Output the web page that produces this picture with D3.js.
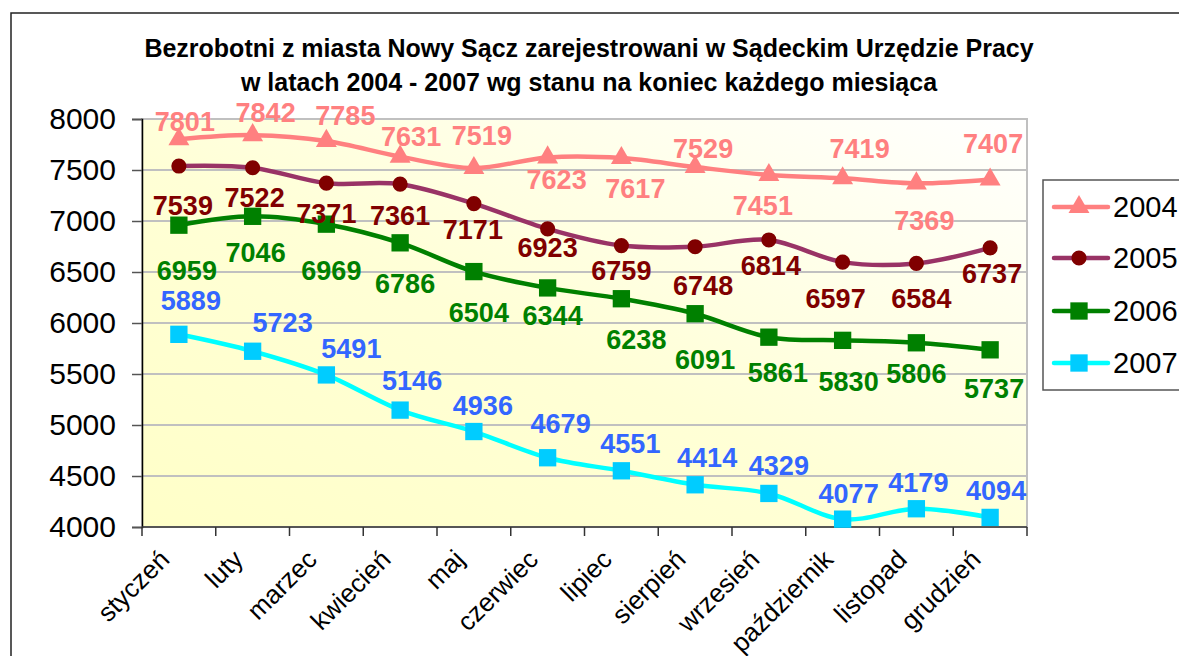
<!DOCTYPE html>
<html>
<head>
<meta charset="utf-8">
<script src="https://cdn.jsdelivr.net/npm/d3@7"></script>
<style>
    body { margin: 0; background: #fff; }
    text { font-family: Arial, "Liberation Sans", sans-serif; }
</style>
</head>
<body>
<div id="chart-container"></div>
<script>
// LINE CHART - bezrobotni Nowy Sącz

// Data

var months = ["styczeń", "luty", "marzec", "kwiecień", "maj", "czerwiec",
              "lipiec", "sierpień", "wrzesień", "październik", "listopad", "grudzień"];
var years = ["2004", "2005", "2006", "2007"];

var values2004 = [7801, 7842, 7785, 7631, 7519, 7623, 7617, 7529, 7451, 7419, 7369, 7407];
var values2005 = [7539, 7522, 7371, 7361, 7171, 6923, 6759, 6748, 6814, 6597, 6584, 6737];
var values2006 = [6959, 7046, 6969, 6786, 6504, 6344, 6238, 6091, 5861, 5830, 5806, 5737];
var values2007 = [5889, 5723, 5491, 5146, 4936, 4679, 4551, 4414, 4329, 4077, 4179, 4094];

var yTicks = [4000, 4500, 5000, 5500, 6000, 6500, 7000, 7500, 8000];

var titleLines = ["Bezrobotni z miasta Nowy Sącz zarejestrowani w Sądeckim Urzędzie Pracy",
                  "w latach 2004 - 2007 wg stanu na koniec każdego miesiąca"];

// Label placement (px offsets from the marker, as they were moved by hand in the original)

var labelDx = [
    [6, 13, 19, 11, 8, 9, 14, 8, -6, 17, 8, 3],
    [4, 2, 0, 0, -1, 0, 0, 8, 2, -7, 5, 2],
    [8, 3, 5, 5, 5, 5, 15, 10, 9, 6, 0, 4],
    [12, 30, 25, 12, 9, 13, 9, 12, 10, 6, 2, 6]
];
var labelDy = [
    [-8, -13, -16, -11, -23, 32, 40, -9, 40, -20, 47, -26],
    [49, 39, 40, 41, 35, 28, 34, 48, 35, 46, 45, 35],
    [55, 46, 56, 50, 50, 37, 50, 55, 45, 51, 40, 48],
    [-24, -19, -17, -20, -17, -25, -18, -18, -18, -16, -17, -17]
];

// Series styles

var lineColors   = ["#FF8080", "#993366", "#008000", "#00FFFF"];
var markerColors = ["#FF8080", "#800000", "#008000", "#00CCFF"];
var labelColors  = ["#FF8080", "#800000", "#008000", "#3366FF"];
var markerShapes = [d3.symbolTriangle, d3.symbolCircle, d3.symbolSquare, d3.symbolSquare];
var markerSizes  = [190, 180, 300, 300];

var series = [values2004, values2005, values2006, values2007].map(function(v, i) {
    return { name: years[i], values: v, idx: i };
});

// Chart variables

var svgWidth = 1179;
var svgHeight = 656;
var plot = {left: 142, top: 119, right: 1027, bottom: 527};
var width = plot.right - plot.left;
var height = plot.bottom - plot.top;

var svg = d3.select("#chart-container")
            .append("svg")
            .attr("width", svgWidth)
            .attr("height", svgHeight);

// Outer chart border (runs off the picture on right and bottom)

svg.append("rect")
    .attr("x", 11)
    .attr("y", 13)
    .attr("width", 1300)
    .attr("height", 800)
    .attr("fill", "none")
    .attr("stroke", "#222")
    .attr("stroke-width", 1.5);

// Title

svg.selectAll(".title")
    .data(titleLines)
    .enter()
    .append("text")
    .attr("x", 589)
    .attr("y", function(d, i) { return 57 + i * 34; })
    .attr("text-anchor", "middle")
    .style("font-size", "25px")
    .style("font-weight", "bold")
    .text(function(d) { return d; });

// Gradient for plot background

var defs = svg.append("defs");
var grad = defs.append("linearGradient")
    .attr("id", "plotBg")
    .attr("x1", 0).attr("y1", 1)
    .attr("x2", 1).attr("y2", 0);
grad.append("stop").attr("offset", "0%").attr("stop-color", "#FFFFC8");
grad.append("stop").attr("offset", "45%").attr("stop-color", "#FFFFD6");
grad.append("stop").attr("offset", "100%").attr("stop-color", "#FFFFFF");

var chart = svg.append("g")
    .attr("transform", "translate(" + plot.left + "," + plot.top + ")");

chart.append("rect")
    .attr("width", width)
    .attr("height", height)
    .attr("fill", "url(#plotBg)")
    .attr("stroke", "#C0C0C0")
    .attr("stroke-width", 2);

// Scales

var xScale = d3.scaleBand()
    .range([0, width])
    .domain(months);

var yScale = d3.scaleLinear()
    .range([height, 0])
    .domain([4000, 8000]);

function xc(i) { return xScale(months[i]) + xScale.bandwidth() / 2; }

// Grid lines

chart.selectAll(".grid")
    .data(yTicks)
    .enter()
    .append("line")
    .attr("x1", 0)
    .attr("x2", width)
    .attr("y1", function(d) { return yScale(d); })
    .attr("y2", function(d) { return yScale(d); })
    .attr("stroke", "#C0C0C0")
    .attr("stroke-width", 2);

// Y axis

var yAxis = d3.axisLeft(yScale)
    .tickValues(yTicks)
    .tickFormat(d3.format("d"))
    .tickSize(10)
    .tickPadding(16);

var yG = chart.append("g").call(yAxis);
yG.select(".domain").attr("stroke", "#000").attr("stroke-width", 1.5);
yG.selectAll(".tick line").attr("stroke", "#555").attr("stroke-width", 1.5);
yG.selectAll("text")
    .style("font-size", "30px")
    .attr("fill", "#000")
    .style("font-family", "Arial, 'Liberation Sans', sans-serif");

// X axis (ticks at category borders, rotated labels)

var xG = chart.append("g")
    .attr("transform", "translate(0," + height + ")");

xG.append("line")
    .attr("x1", 0).attr("x2", width)
    .attr("stroke", "#333")
    .attr("stroke-width", 1.5);

var borders = months.map(function(m) { return xScale(m); }).concat([width]);

xG.selectAll(".xtick")
    .data(borders)
    .enter()
    .append("line")
    .attr("x1", function(d) { return d; })
    .attr("x2", function(d) { return d; })
    .attr("y1", 0)
    .attr("y2", 9)
    .attr("stroke", "#333")
    .attr("stroke-width", 1.5);

xG.selectAll(".xlabel")
    .data(months)
    .enter()
    .append("text")
    .attr("text-anchor", "end")
    .attr("transform", function(d, i) {
        return "translate(" + (xc(i) - 8) + "," + 34 + ") rotate(-45)";
    })
    .style("font-size", "26px")
    .attr("fill", "#000")
    .text(function(d) { return d; });

// Lines

var line = d3.line()
    .x(function(d, i) { return xc(i); })
    .y(function(d) { return yScale(d); })
    .curve(d3.curveCatmullRom.alpha(0));

chart.selectAll(".series-line")
    .data(series)
    .enter()
    .append("path")
    .attr("d", function(s) { return line(s.values); })
    .attr("fill", "none")
    .attr("stroke", function(s) { return lineColors[s.idx]; })
    .attr("stroke-width", 4.5)
    .attr("stroke-linejoin", "round");

// Markers

series.forEach(function(s) {
    chart.selectAll(".m" + s.idx)
        .data(s.values)
        .enter()
        .append("path")
        .attr("d", d3.symbol().type(markerShapes[s.idx]).size(markerSizes[s.idx]))
        .attr("transform", function(d, i) {
            return "translate(" + xc(i) + "," + yScale(d) + ")";
        })
        .attr("fill", markerColors[s.idx]);
});

// Data labels

series.forEach(function(s) {
    chart.selectAll(".l" + s.idx)
        .data(s.values)
        .enter()
        .append("text")
        .attr("x", function(d, i) { return xc(i) + labelDx[s.idx][i]; })
        .attr("y", function(d, i) { return yScale(d) + labelDy[s.idx][i]; })
        .attr("text-anchor", "middle")
        .style("font-size", "27px")
        .style("font-weight", "bold")
        .attr("fill", labelColors[s.idx])
        .text(function(d) { return d; });
});

// Legend

var legend = svg.append("g")
    .attr("transform", "translate(1043,180)");

legend.append("rect")
    .attr("width", 200)
    .attr("height", 210)
    .attr("fill", "#fff")
    .attr("stroke", "#555")
    .attr("stroke-width", 1.5);

var legendY = [27, 78, 131, 183];

series.forEach(function(s) {
    var row = legend.append("g")
        .attr("transform", "translate(0," + legendY[s.idx] + ")");
    row.append("line")
        .attr("x1", 11).attr("x2", 65)
        .attr("stroke", lineColors[s.idx])
        .attr("stroke-width", 4.5)
        .attr("stroke-linecap", "round");
    row.append("path")
        .attr("d", d3.symbol().type(markerShapes[s.idx]).size(markerSizes[s.idx]))
        .attr("transform", "translate(36,0)")
        .attr("fill", markerColors[s.idx]);
    row.append("text")
        .attr("x", 70)
        .attr("dy", "0.36em")
        .style("font-size", "29px")
        .attr("fill", "#000")
        .text(s.name);
});

</script>
</body>
</html>
